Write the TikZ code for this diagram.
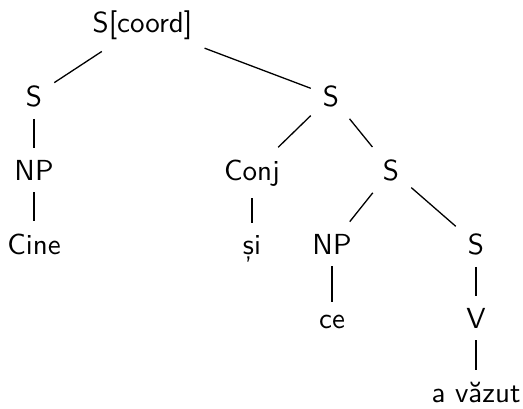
\documentclass[tikz,border=0pt]{standalone}
\usepackage{fontspec}
\newfontfamily\lmsansten{lmsans10-regular.otf}
\begin{document}
\begin{tikzpicture}[x=1pt,y=-1pt,
  lbl/.style={font=\lmsansten\fontsize{29}{35}\selectfont, inner sep=12pt, anchor=base},
  edge/.style={line width=1.3pt, black}]
\useasboundingbox (0,0) rectangle (523,408);
\node[lbl] (root) at (142.5,32) {S[coord]};
\node[lbl] (sl) at (34,106) {S};
\node[lbl] (sr) at (331,106) {S};
\node[lbl] (np1) at (34,180) {NP};
\node[lbl] (conj) at (252,180) {Conj};
\node[lbl] (s2) at (391,180) {S};
\node[lbl] (cine) at (34,254) {Cine};
\node[lbl] (si) at (252,254) {și};
\node[lbl] (np2) at (332,254) {NP};
\node[lbl] (s3) at (476,254) {S};
\node[lbl] (ce) at (332,328) {ce};
\node[lbl] (v) at (476,328) {V};
\node[lbl] (av) at (476,402) {a văzut};
\draw[edge] (root) -- (sl);
\draw[edge] (root) -- (sr);
\draw[edge] (sl) -- (np1);
\draw[edge] (np1) -- (cine);
\draw[edge] (sr) -- (conj);
\draw[edge] (sr) -- (s2);
\draw[edge] (conj) -- (si);
\draw[edge] (s2) -- (np2);
\draw[edge] (s2) -- (s3);
\draw[edge] (np2) -- (ce);
\draw[edge] (s3) -- (v);
\draw[edge] (v) -- (av);
\end{tikzpicture}
\end{document}
